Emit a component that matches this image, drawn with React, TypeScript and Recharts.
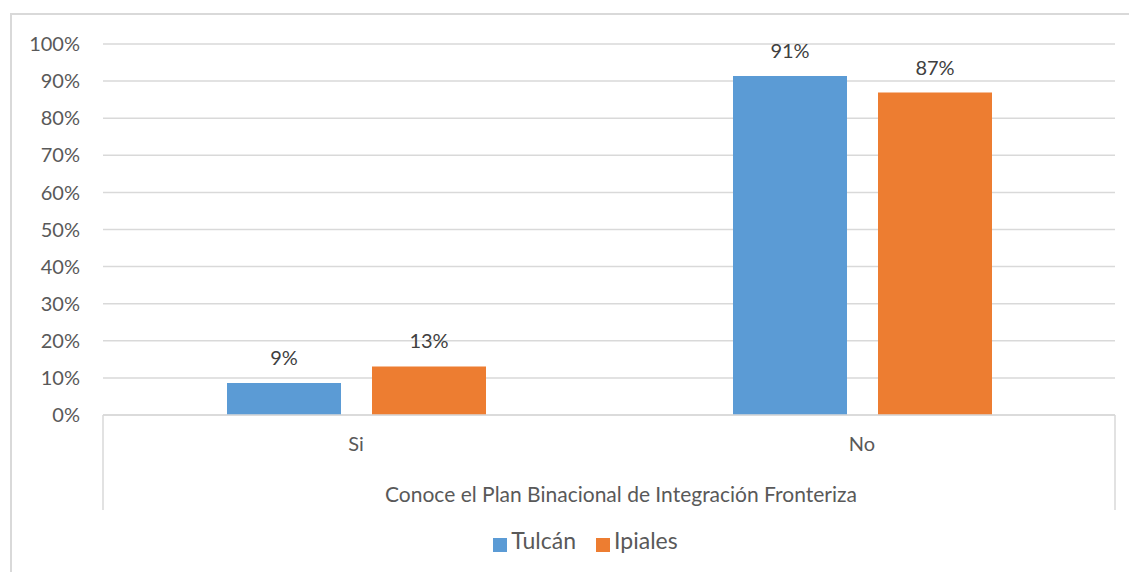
import React from 'react';
import { BarChart, Bar, XAxis, YAxis, CartesianGrid, Legend, LabelList } from 'recharts';

const categories = ['Si', 'No'];
const seriesNames = ['Tulcán', 'Ipiales'];
const tulcan = [0.086, 0.914];
const ipiales = [0.131, 0.869];
const yTicks = [0, 0.1, 0.2, 0.3, 0.4, 0.5, 0.6, 0.7, 0.8, 0.9, 1];
const groupLabel = 'Conoce el Plan Binacional de Integración Fronteriza';

const data = categories.map((name, i) => ({ name, Tulcán: tulcan[i], Ipiales: ipiales[i] }));

const pct = (v: number) => Math.round(v * 100) + '%';
const textColor = '#595959';
const gridColor = '#D9D9D9';

// multi-level category axis: side lines + group caption under the ticks
const GroupLabel = (props: any) => {
  const { x, y, width } = props.viewBox;
  return (
    <g>
      <line x1={x} y1={y} x2={x} y2={y + 95} stroke={gridColor} strokeWidth={1.5} />
      <line x1={x + width} y1={y} x2={x + width} y2={y + 95} stroke={gridColor} strokeWidth={1.5} />
      <text x={x + width / 2 + 12} y={y + 87} textAnchor="middle" fill={textColor} fontSize={21}>
        {groupLabel}
      </text>
    </g>
  );
};

const App = () => {
  return (
    <div style={{ position: 'absolute', left: 0, top: 0, width: 1129, height: 572, overflow: 'hidden', background: '#fff', fontFamily: 'Lato, sans-serif' }}>
      <div style={{ position: 'absolute', left: 10, top: 13, width: 1300, height: 700, borderLeft: `2px solid ${gridColor}`, borderTop: `2px solid ${gridColor}` }} />
      <div style={{ position: 'absolute', left: 0, top: 0 }}>
        <BarChart
          width={1129}
          height={572}
          data={data}
          margin={{ top: 44, right: 14, left: 10, bottom: 18 }}
          barCategoryGap={124}
          barGap={31}
        >
          <CartesianGrid vertical={false} stroke={gridColor} strokeWidth={1.5} />
          <YAxis
            width={93}
            domain={[0, 1]}
            ticks={yTicks}
            tickFormatter={pct}
            axisLine={false}
            tickLine={false}
            tickSize={0}
            tickMargin={23}
            tick={{ fill: textColor, fontSize: 20 }}
          />
          <XAxis
            dataKey="name"
            height={111}
            axisLine={{ stroke: gridColor, strokeWidth: 1.5 }}
            tickLine={false}
            tickSize={0}
            tickMargin={22}
            tick={{ fill: textColor, fontSize: 20 }}
            label={<GroupLabel />}
          />
          <Legend
            verticalAlign="bottom"
            align="center"
            iconType="square"
            iconSize={14}
            wrapperStyle={{ paddingLeft: 28 }}
            itemSorter={(item: any) => seriesNames.indexOf(item.value)}
            formatter={(value: string) => (
              <span style={{ color: textColor, fontSize: 23, marginRight: value === 'Tulcán' ? 10 : 0 }}>{value}</span>
            )}
          />
          <Bar dataKey="Tulcán" fill="#5B9BD5" isAnimationActive={false}>
            <LabelList dataKey="Tulcán" position="top" offset={18} formatter={pct} fill="#404040" fontSize={20} />
          </Bar>
          <Bar dataKey="Ipiales" fill="#ED7D31" isAnimationActive={false}>
            <LabelList dataKey="Ipiales" position="top" offset={18} formatter={pct} fill="#404040" fontSize={20} />
          </Bar>
        </BarChart>
      </div>
    </div>
  );
};

export default App;
